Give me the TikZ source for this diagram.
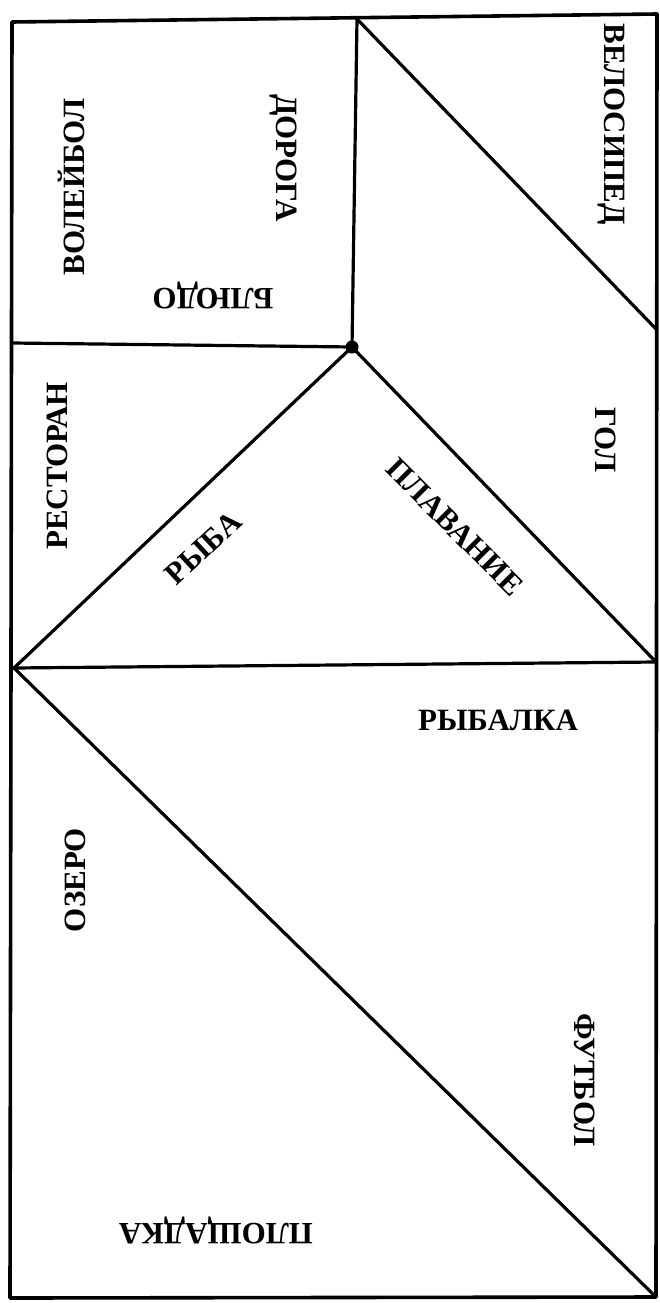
\documentclass[tikz,border=0pt]{standalone}
\usepackage{fontspec}
\setmainfont{Liberation Serif}
\begin{document}
\begin{tikzpicture}[x=1pt,y=-1pt,
  edge/.style={line width=3.2pt,line cap=round,line join=round,black},
  frame/.style={line width=3.6pt,line cap=round,line join=round,black},
  lbl/.style={inner sep=0pt,font=\fontsize{31}{31}\selectfont\bfseries}]
\useasboundingbox[fill=white] (0,0) rectangle (659,1303);
% corners and junctions
\coordinate (TL) at (12,22);
\coordinate (TR) at (657,14);
\coordinate (BR) at (656,1297);
\coordinate (BL) at (10,1298);
\coordinate (VT) at (357,19);
\coordinate (D) at (352,347);
\coordinate (HL) at (12,343);
\coordinate (R1) at (657,330);
\coordinate (L2) at (14,668);
\coordinate (R2) at (656,662);
% frame
\draw[frame] (TL) -- (TR) -- (BR) -- (BL) -- cycle;
% inner lines
\draw[edge] (VT) -- (D);
\draw[edge] (HL) -- (D);
\draw[edge] (VT) -- (R1);
\draw[edge] (D) -- (L2);
\draw[edge] (D) -- (R2);
\draw[edge] (L2) -- (R2);
\draw[edge] (L2) -- (BR);
\fill (D) circle (6.5);
% labels
\node[lbl,rotate=-90] (velo) at (611,124) {ВЕЛОСИПЕД};
\node[lbl,rotate=-90] (doroga) at (283,158) {ДОРОГА};
\node[lbl,rotate=90] (volei) at (71,187) {ВОЛЕЙБОЛ};
\node[lbl,rotate=180] (bludo) at (213,295) {БЛЮДО};
\node[lbl,rotate=90] (rest) at (57,466) {РЕСТОРАН};
\node[lbl,rotate=43] (ryba) at (203,548) {РЫБА};
\node[lbl,rotate=-45] (plav) at (455,527) {ПЛАВАНИЕ};
\node[lbl,rotate=-90] (gol) at (606,440) {ГОЛ};
\node[lbl] (rybalka) at (498,720) {РЫБАЛКА};
\node[lbl,rotate=90] (ozero) at (75,880) {ОЗЕРО};
\node[lbl,rotate=-90] (futbol) at (585,1080) {ФУТБОЛ};
\node[lbl,rotate=180] (plosh) at (216,1230) {ПЛОЩАДКА};
\end{tikzpicture}
\end{document}
